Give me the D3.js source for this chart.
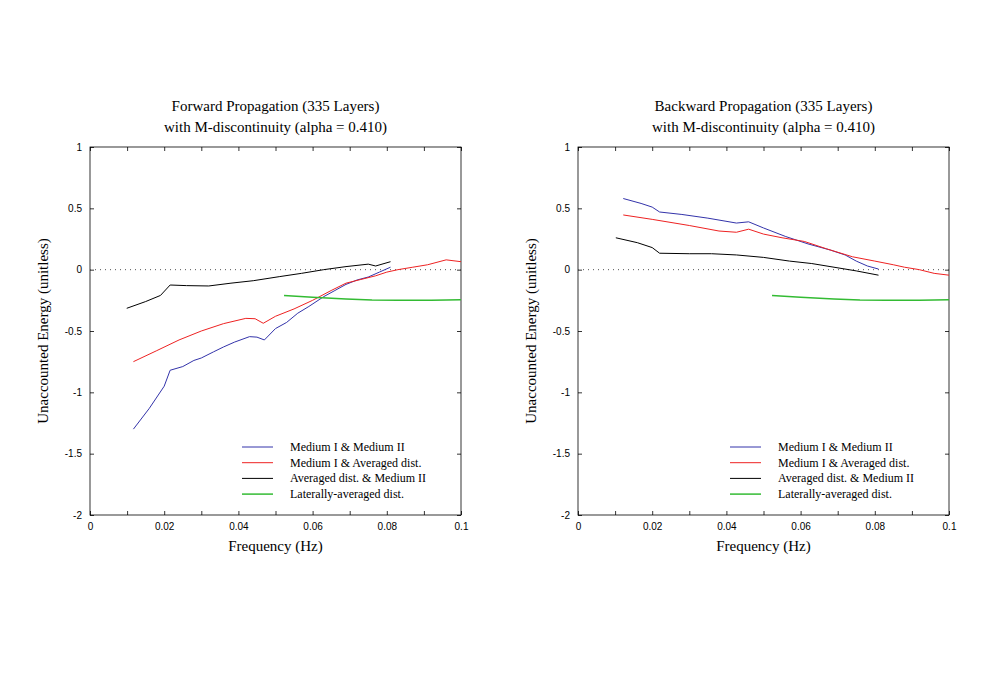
<!DOCTYPE html>
<html><head><meta charset="utf-8">
<script src="https://cdn.jsdelivr.net/npm/d3@7"></script>
<style>body{margin:0;background:#fff}</style>
</head><body>
<div id="chart"></div>
<script>
// data: [frequency, energy]
var fwdBlue = [[0.0117,-1.30],[0.016,-1.13],[0.0200,-0.95],[0.0216,-0.82],[0.025,-0.79],[0.028,-0.74],[0.030,-0.72],[0.0333,-0.67],[0.036,-0.63],[0.039,-0.59],[0.043,-0.546],[0.045,-0.55],[0.047,-0.573],[0.050,-0.48],[0.053,-0.43],[0.056,-0.355],[0.059,-0.30],[0.063,-0.22],[0.066,-0.17],[0.069,-0.12],[0.072,-0.084],[0.075,-0.06],[0.078,-0.02],[0.081,0.02]];
var fwdRed = [[0.0117,-0.75],[0.018,-0.66],[0.024,-0.573],[0.030,-0.50],[0.036,-0.44],[0.042,-0.397],[0.0445,-0.40],[0.0467,-0.437],[0.050,-0.38],[0.055,-0.32],[0.060,-0.25],[0.065,-0.17],[0.069,-0.11],[0.073,-0.08],[0.077,-0.05],[0.080,-0.02],[0.083,0],[0.087,0.02],[0.091,0.04],[0.096,0.08],[0.1,0.065]];
var fwdBlack = [[0.0099,-0.315],[0.015,-0.26],[0.019,-0.21],[0.0216,-0.125],[0.026,-0.13],[0.032,-0.133],[0.038,-0.11],[0.044,-0.09],[0.051,-0.057],[0.057,-0.03],[0.063,0],[0.069,0.025],[0.075,0.045],[0.077,0.03],[0.081,0.065]];
var bwdBlue = [[0.0122,0.58],[0.017,0.54],[0.020,0.51],[0.022,0.47],[0.028,0.45],[0.035,0.42],[0.0427,0.38],[0.046,0.39],[0.050,0.34],[0.056,0.27],[0.062,0.21],[0.068,0.16],[0.072,0.12],[0.075,0.07],[0.078,0.03],[0.081,0.005]];
var bwdRed = [[0.0122,0.446],[0.020,0.41],[0.030,0.36],[0.038,0.315],[0.0427,0.305],[0.046,0.33],[0.050,0.29],[0.055,0.26],[0.061,0.23],[0.067,0.17],[0.074,0.105],[0.080,0.07],[0.085,0.04],[0.088,0.02],[0.092,0.0],[0.096,-0.03],[0.1,-0.045]];
var bwdBlack = [[0.0102,0.26],[0.016,0.22],[0.020,0.18],[0.022,0.134],[0.030,0.13],[0.036,0.13],[0.0427,0.12],[0.050,0.10],[0.057,0.07],[0.063,0.05],[0.069,0.02],[0.075,-0.01],[0.081,-0.045]];
var green = [[0.0523,-0.21],[0.060,-0.225],[0.069,-0.24],[0.076,-0.248],[0.083,-0.25],[0.092,-0.25],[0.1,-0.245]];
var titles = [["Forward Propagation (335 Layers)","with M-discontinuity (alpha = 0.410)"],["Backward Propagation (335 Layers)","with M-discontinuity (alpha = 0.410)"]];
var legendLabels = ["Medium I & Medium II","Medium I & Averaged dist.","Averaged dist. & Medium II","Laterally-averaged dist."];
var colors = ["#3333aa","#ee2222","#000000","#33bb33"];
var xTicks = [0,0.02,0.04,0.06,0.08,0.1];
var yTicks = [1,0.5,0,-0.5,-1,-1.5,-2];

var svg = d3.select("#chart").append("svg").attr("width",1000).attr("height",688);
var panels = [
  {left:90, series:[fwdBlue,fwdRed,fwdBlack,green], title:titles[0]},
  {left:578, series:[bwdBlue,bwdRed,bwdBlack,green], title:titles[1]}
];
var w = 371, plotTop = 147, h = 368;
var tf = "Liberation Serif, Times New Roman, serif";
var sf = "Liberation Sans, Arial, sans-serif";

panels.forEach(function(p) {
  var g = svg.append("g").attr("transform","translate(" + p.left + "," + plotTop + ")");
  var x = d3.scaleLinear().domain([0,0.1]).range([0,w]);
  var y = d3.scaleLinear().domain([-2,1]).range([h,0]);

  g.append("rect").attr("width",w).attr("height",h).attr("fill","none").attr("stroke","#000").attr("stroke-width",0.8);

  var minor = d3.range(0,11).map(function(i){return i/100;});
  var bx = g.append("g").attr("transform","translate(0," + h + ")")
    .call(d3.axisBottom(x).tickValues(minor).tickSizeInner(-4).tickSizeOuter(0).tickPadding(8)
      .tickFormat(function(d){return xTicks.some(function(t){return Math.abs(t-d)<1e-9;}) ? String(+d.toFixed(2)) : "";}));
  g.append("g").call(d3.axisTop(x).tickValues(minor).tickSizeInner(-4).tickSizeOuter(0).tickFormat(""));
  g.append("g").call(d3.axisLeft(y).tickValues(yTicks).tickSizeInner(-4).tickSizeOuter(0).tickPadding(8).tickFormat(function(d){return String(d);}));
  g.append("g").attr("transform","translate(" + w + ",0)").call(d3.axisRight(y).tickValues(yTicks).tickSizeInner(-4).tickSizeOuter(0).tickFormat(""));
  g.selectAll(".domain").remove();
  g.selectAll(".tick line").attr("stroke","#000").attr("stroke-width",0.8);
  g.selectAll(".tick text").attr("font-family",sf).attr("font-size",10).attr("fill","#000");

  g.append("line").attr("x1",0).attr("x2",w).attr("y1",y(0)).attr("y2",y(0))
    .attr("stroke","#555").attr("stroke-dasharray","1,4").attr("stroke-width",1);

  var line = d3.line().x(function(d){return x(d[0]);}).y(function(d){return y(d[1]);});
  p.series.forEach(function(s,i) {
    g.append("path").datum(s).attr("d",line).attr("fill","none")
      .attr("stroke",colors[i]).attr("stroke-width", i===3 ? 1.5 : 1);
  });

  g.append("text").attr("x",w/2).attr("y",-36).attr("text-anchor","middle").attr("font-family",tf).attr("font-size",15).text(p.title[0]);
  g.append("text").attr("x",w/2).attr("y",-15).attr("text-anchor","middle").attr("font-family",tf).attr("font-size",15).text(p.title[1]);
  g.append("text").attr("x",w/2).attr("y",h+36).attr("text-anchor","middle").attr("font-family",tf).attr("font-size",15).text("Frequency (Hz)");
  g.append("text").attr("transform","translate(-42," + (h/2) + ") rotate(-90)").attr("text-anchor","middle").attr("font-family",tf).attr("font-size",15).text("Unaccounted Energy (unitless)");

  legendLabels.forEach(function(lab,i) {
    var ly = 300 + i*15.7;
    g.append("line").attr("x1",152).attr("x2",183).attr("y1",ly).attr("y2",ly).attr("stroke",colors[i]).attr("stroke-width", i===3 ? 1.5 : 1);
    g.append("text").attr("x",200).attr("y",ly+4).attr("font-family",tf).attr("font-size",12).text(lab);
  });
});
</script>
</body></html>
